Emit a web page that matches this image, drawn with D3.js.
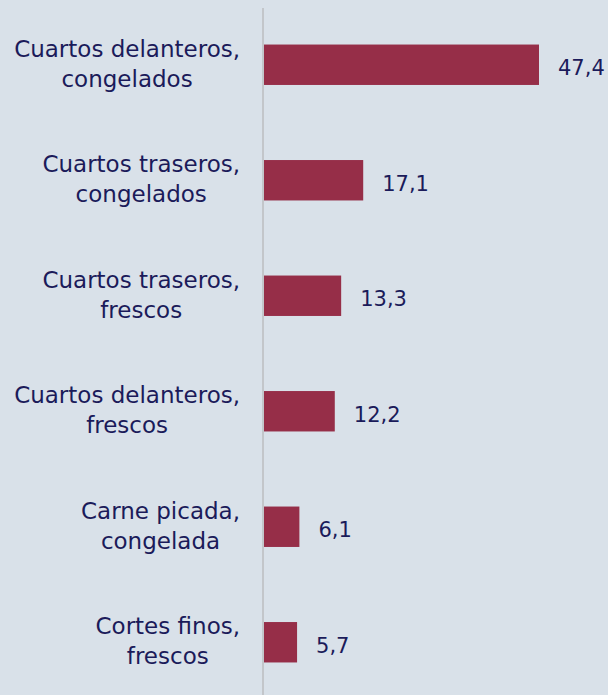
<!DOCTYPE html>
<html>
<head>
<meta charset="utf-8">
<script src="https://cdn.jsdelivr.net/npm/d3@7"></script>
<style>
  html, body { margin: 0; padding: 0; background: #d9e1e9; }
  text { font-family: "DejaVu Sans", sans-serif; fill: #1b1b5a; }
</style>
</head>
<body>
<div id="chart"></div>
<script>
// categories (two lines each) and values
let labels = [
	["Cuartos delanteros,", "congelados"],
	["Cuartos traseros,", "congelados"],
	["Cuartos traseros,", "frescos"],
	["Cuartos delanteros,", "frescos"],
	["Carne picada,", "congelada"],
	["Cortes finos,", "frescos"]
];
let values = [47.4, 17.1, 13.3, 12.2, 6.1, 5.7];

let width = 608, height = 695;
let margin = {top: 7, right: 0, bottom: -5, left: 264};

let svg = d3.select("#chart").append("svg")
	.attr("width", width)
	.attr("height", height);

let g = svg.append("g")
	.attr("transform", "translate(" + margin.left + "," + margin.top + ")");

let innerH = height - margin.top - margin.bottom;

let y = d3.scaleBand()
	.domain(d3.range(values.length))
	.range([0, innerH])
	.paddingInner(0.65)
	.paddingOuter(0.325);

let x = d3.scaleLinear()
	.domain([0, 47.4])
	.range([0, 275]);

// bars
g.selectAll(".bar")
	.data(values)
	.enter().append("rect")
	.attr("class", "bar")
	.attr("x", 0)
	.attr("y", (d, i) => y(i))
	.attr("width", d => x(d))
	.attr("height", y.bandwidth())
	.attr("fill", "#962e48");

// vertical axis line
g.append("line")
	.attr("x1", -1).attr("x2", -1)
	.attr("y1", 1).attr("y2", height)
	.attr("stroke", "#c3c6ca")
	.attr("stroke-width", 2);

// value labels
g.selectAll(".val")
	.data(values)
	.enter().append("text")
	.attr("class", "val")
	.attr("x", d => x(d) + 19)
	.attr("y", (d, i) => y(i) + y.bandwidth() / 2 + 3)
	.attr("dy", "0.35em")
	.style("font-size", "21px")
	.text(d => d3.format(".1f")(d).replace(".", ","));

// category labels
let cat = g.selectAll(".cat")
	.data(labels)
	.enter().append("text")
	.attr("class", "cat")
	.attr("text-anchor", "middle")
	.style("font-size", "23px");

cat.each(function(d, i) {
	let t = d3.select(this);
	let cy = y(i) + y.bandwidth() / 2;
	d.forEach((line, j) => {
		t.append("tspan")
			.attr("x", 0)
			.attr("y", cy + (j === 0 ? -16 : 14))
			.attr("dy", "0.35em")
			.text(line);
	});
	// right align the block, lines centred on each other
	let bb = this.getBBox();
	t.selectAll("tspan").attr("x", -24 - bb.width / 2);
});
</script>
</body>
</html>
